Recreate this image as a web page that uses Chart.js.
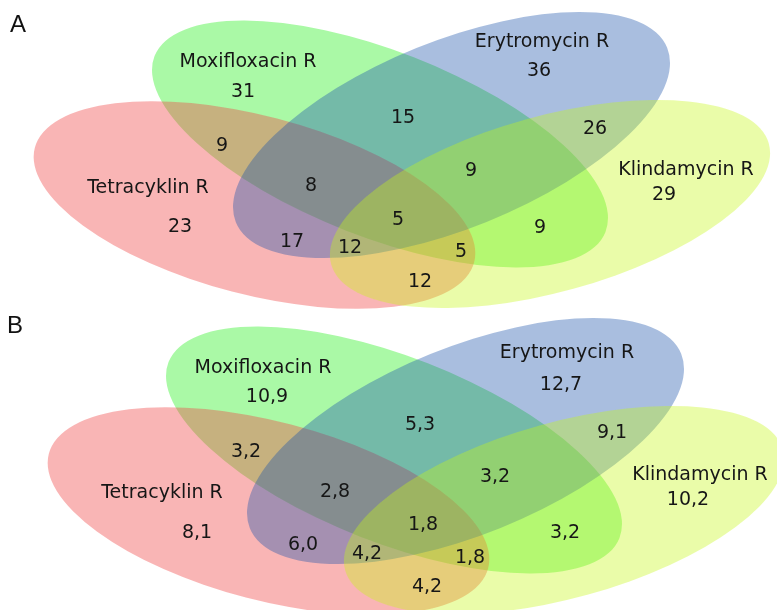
<!DOCTYPE html>
<html>
<head>
<meta charset="utf-8">
<script src="https://cdn.jsdelivr.net/npm/chart.js@4/dist/chart.umd.min.js"></script>
<style>
  html, body { margin: 0; padding: 0; background: #ffffff; }
  #wrap { width: 777px; height: 610px; }
</style>
</head>
<body>
<div id="wrap"><canvas id="venn" width="777" height="610"></canvas></div>
<script>
// ---- data ----
const setNames = ['Moxifloxacin R', 'Tetracyklin R', 'Erytromycin R', 'Klindamycin R'];
const panelLetters = ['A', 'B'];
// region keys: M = Moxifloxacin, T = Tetracyklin, E = Erytromycin, K = Klindamycin
const regionKeys = ['M', 'T', 'E', 'K', 'MT', 'ME', 'EK', 'MK', 'TK', 'MTE', 'MEK', 'TE', 'TEK', 'MTK', 'MTEK'];
const isolateCounts = [31, 23, 36, 29, 9, 15, 26, 9, 12, 8, 9, 17, 12, 5, 5];
const isolatePercent = [10.9, 8.1, 12.7, 10.2, 3.2, 5.3, 9.1, 3.2, 4.2, 2.8, 3.2, 6.0, 4.2, 1.8, 1.8];

// ---- layout (diagram units, y downward) ----
const panelOffsets = [{ x: 0, y: 0 }, { x: 14, y: 306 }];
// ellipses in paint order: green, red, blue, yellow
const ellipses = [
  { set: 'M', cx: 380, cy: 144, rx: 242, ry: 93, rot: 21.3, color: 'rgba(43,240,33,0.4)' },
  { set: 'T', cx: 254.5, cy: 205, rx: 227, ry: 89.5, rot: 14.6, color: 'rgba(240,70,70,0.4)' },
  { set: 'E', cx: 451.5, cy: 135, rx: 232.6, ry: 93.7, rot: -22, color: 'rgba(29,84,171,0.38)' },
  { set: 'K', cx: 550, cy: 204, rx: 227, ry: 88, rot: -15.4, color: 'rgba(198,247,23,0.37)' }
];
const regionAnchors = [
  { M: [243, 92], T: [180, 227], E: [539, 71], K: [664, 195], MT: [222, 146], ME: [403, 118],
    EK: [595, 129], MK: [540, 228], TK: [420, 282], MTE: [311, 186], MEK: [471, 171],
    TE: [292, 242], TEK: [350, 248], MTK: [461, 252], MTEK: [398, 220] },
  { M: [267, 397], T: [197, 533], E: [561, 385], K: [688, 500], MT: [246, 452], ME: [420, 425],
    EK: [612, 433], MK: [565, 533], TK: [427, 587], MTE: [335, 492], MEK: [495, 477],
    TE: [303, 545], TEK: [367, 554], MTK: [470, 558], MTEK: [423, 525] }
];
const nameAnchors = [
  [[248, 62], [148, 188], [542, 42], [686, 170]],
  [[263, 368], [162, 493], [567, 353], [700, 475]]
];
const letterAnchors = [[18, 25], [15, 326]];

const fmtPercent = v => v.toFixed(1).replace('.', ',');

const textFont = '19px "DejaVu Sans", Verdana, sans-serif';

function regionDataset(panel, values, fmt) {
  return {
    label: 'regions ' + panelLetters[panel],
    data: regionKeys.map(k => ({ x: regionAnchors[panel][k][0], y: regionAnchors[panel][k][1] })),
    texts: values.map(fmt),
    font: textFont,
    pointRadius: 0
  };
}
function nameDataset(panel) {
  return {
    label: 'sets ' + panelLetters[panel],
    data: nameAnchors[panel].map(p => ({ x: p[0], y: p[1] })),
    texts: setNames.slice(),
    font: textFont,
    pointRadius: 0
  };
}

const ellipsePlugin = {
  id: 'vennEllipses',
  beforeDatasetsDraw(chart) {
    const { ctx, scales: { x, y } } = chart;
    ctx.save();
    panelOffsets.forEach(off => {
      ellipses.forEach(e => {
        const px = x.getPixelForValue(e.cx + off.x);
        const py = y.getPixelForValue(e.cy + off.y);
        const rx = Math.abs(x.getPixelForValue(e.cx + e.rx) - x.getPixelForValue(e.cx));
        const ry = Math.abs(y.getPixelForValue(e.cy + e.ry) - y.getPixelForValue(e.cy));
        ctx.beginPath();
        ctx.ellipse(px, py, rx, ry, e.rot * Math.PI / 180, 0, Math.PI * 2);
        ctx.fillStyle = e.color;
        ctx.fill();
      });
    });
    ctx.restore();
  }
};

const textPlugin = {
  id: 'vennText',
  afterDatasetsDraw(chart) {
    const { ctx } = chart;
    ctx.save();
    ctx.textAlign = 'center';
    ctx.textBaseline = 'middle';
    chart.data.datasets.forEach((ds, i) => {
      const meta = chart.getDatasetMeta(i);
      ctx.font = ds.font;
      ctx.fillStyle = ds.textColor || '#161616';
      meta.data.forEach((pt, j) => {
        ctx.fillText(ds.texts[j], pt.x, pt.y);
      });
    });
    ctx.restore();
  }
};

new Chart(document.getElementById('venn'), {
  type: 'scatter',
  data: {
    datasets: [
      regionDataset(0, isolateCounts, v => String(v)),
      regionDataset(1, isolatePercent, fmtPercent),
      nameDataset(0),
      nameDataset(1),
      {
        label: 'panels',
        data: letterAnchors.map(p => ({ x: p[0], y: p[1] })),
        texts: panelLetters.slice(),
        font: '24px "Liberation Sans", Arial, sans-serif',
        textColor: '#111111',
        pointRadius: 0
      }
    ]
  },
  options: {
    responsive: false,
    animation: false,
    devicePixelRatio: 1,
    layout: { padding: 0 },
    scales: {
      x: { type: 'linear', min: 0, max: 777, display: false },
      y: { type: 'linear', min: 0, max: 610, reverse: true, display: false }
    },
    plugins: { legend: { display: false }, tooltip: { enabled: false } },
    events: []
  },
  plugins: [ellipsePlugin, textPlugin]
});
</script>
</body>
</html>
